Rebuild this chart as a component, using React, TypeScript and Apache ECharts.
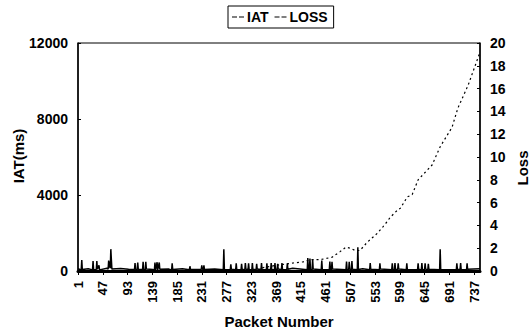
import React, { useEffect, useRef } from "react";
import * as echarts from "echarts";

const PACKET_COUNT = 748;
const packets: string[] = Array.from({ length: PACKET_COUNT }, (_, i) => String(i + 1));

// [packet number, IAT (ms)]
const iatPoints: [number, number][] = [
  [1, 120], [7, 60], [8, 580], [9, 80], [20, 120], [28, 60], [29, 530], [30, 70], [35, 80], [36, 530], [37, 90],
  [40, 300], [41, 60], [55, 150], [57, 100], [58, 550], [60, 200], [61, 150], [62, 1150], [63, 600], [64, 100],
  [80, 130], [95, 90], [106, 80], [107, 420], [108, 80], [111, 70], [112, 450], [113, 90], [121, 80], [122, 480], [123, 70],
  [126, 60], [127, 480], [128, 100], [140, 80], [143, 60], [144, 450], [145, 20], [148, 460], [149, 30], [152, 450],
  [153, 90], [170, 100], [175, 60], [176, 400], [177, 80], [195, 120], [208, 70], [209, 250], [210, 90], [230, 80], [231, 300],
  [232, 100], [234, 70], [235, 300], [236, 80], [255, 110], [271, 60], [272, 1150], [273, 80], [284, 70], [285, 350], [286, 90],
  [294, 60], [295, 400], [296, 80], [304, 70], [305, 380], [306, 90], [311, 60], [312, 420], [313, 100], [317, 70], [318, 400], [319, 80],
  [324, 60], [325, 420], [326, 90], [332, 70], [333, 380], [334, 100], [341, 60], [342, 420], [343, 80], [351, 70], [352, 400], [353, 90],
  [359, 60], [360, 420], [361, 80], [366, 70], [367, 420], [368, 90], [371, 60], [372, 380], [373, 100], [379, 70], [380, 420], [381, 80],
  [389, 60], [390, 400], [391, 90], [400, 150], [427, 70], [428, 680], [429, 90], [431, 60], [432, 650], [433, 80], [436, 70], [437, 620],
  [438, 100], [453, 60], [454, 550], [455, 80], [468, 70], [469, 500], [470, 90], [472, 60], [473, 480], [474, 100], [499, 70], [500, 500],
  [501, 80], [504, 60], [505, 480], [506, 100], [509, 70], [510, 520], [511, 90], [520, 60], [521, 1250], [522, 80], [530, 120],
  [543, 70], [544, 420], [545, 90], [561, 60], [562, 400], [563, 100], [584, 70], [585, 400], [586, 80], [589, 60], [590, 420], [591, 90],
  [595, 70], [596, 400], [597, 100], [611, 60], [612, 400], [613, 80], [632, 70], [633, 400], [634, 90], [639, 60], [640, 420], [641, 80],
  [645, 70], [646, 400], [647, 100], [651, 60], [652, 380], [653, 90], [673, 70], [674, 1150], [675, 80], [704, 60], [705, 400], [706, 90],
  [711, 70], [712, 420], [713, 80], [723, 60], [724, 400], [725, 90], [748, 120],
];

// [packet number, loss]
const lossPoints: [number, number][] = [
  [1, 0], [330, 0], [345, 0.3], [370, 0.5], [401, 0.7], [419, 0.8], [432, 1.0], [451, 1.0],
  [473, 1.2], [488, 1.7], [499, 2.1], [507, 2.0], [516, 1.8], [525, 1.8], [538, 2.5],
  [557, 3.3], [568, 3.9], [575, 4.3], [581, 4.7], [596, 5.4], [600, 5.5], [613, 6.5],
  [622, 6.7], [633, 8.0], [659, 9.3], [674, 10.9], [696, 12.6], [707, 14.3], [726, 16.3],
  [748, 19.2],
];

const FONT = "'Liberation Sans', Arial, sans-serif";

export default function App() {
  const ref = useRef<HTMLDivElement>(null);
  useEffect(() => {
    if (!ref.current) return;
    const chart = echarts.init(ref.current, undefined, { renderer: "svg" });
    const labelStyle = { color: "#000", fontFamily: FONT, fontWeight: "bold" as const, fontSize: 14 };
    chart.setOption({
      animation: false,
      backgroundColor: "#fff",
      textStyle: { fontFamily: FONT },
      legend: {
        top: 6,
        left: 228,
        data: ["IAT", "LOSS"],
        borderColor: "#000",
        borderWidth: 1,
        padding: [4, 6, 4, 4],
        itemGap: 6,
        itemWidth: 12,
        itemHeight: 2,
        icon: "path://M0,0h5v1h-5z M7,0h5v1h-5z",
        textStyle: { ...labelStyle, fontSize: 14, padding: [0, 0, 0, -2] },
      },
      grid: {
        left: 78,
        right: 51,
        top: 43,
        bottom: 59,
        show: true,
        borderColor: "#000",
        borderWidth: 1,
        backgroundColor: "transparent",
      },
      xAxis: {
        type: "category",
        data: packets,
        boundaryGap: false,
        axisLine: { lineStyle: { color: "#000", width: 3 } },
        axisTick: { interval: 45, length: 4, lineStyle: { color: "#000" } },
        axisLabel: { ...labelStyle, fontSize: 13, interval: 45, rotate: 90, margin: 10 },
        splitLine: { show: false },
      },
      yAxis: [
        {
          type: "value",
          min: 0,
          max: 12000,
          interval: 4000,
          axisLine: { show: true, lineStyle: { color: "#000", width: 1.5 } },
          axisTick: { show: true, inside: true, length: 3, lineStyle: { color: "#000" } },
          axisLabel: { ...labelStyle, margin: 10, formatter: (v: number) => String(v) },
          splitLine: { show: false },
        },
        {
          type: "value",
          min: 0,
          max: 20,
          interval: 2,
          axisLine: { show: true, lineStyle: { color: "#000", width: 1.5 } },
          axisTick: { show: true, inside: true, length: 3, lineStyle: { color: "#000" } },
          axisLabel: { ...labelStyle, margin: 10, formatter: (v: number) => String(v) },
          splitLine: { show: false },
        },
      ],
      graphic: [
        {
          type: "text",
          x: 18,
          y: 156,
          rotation: Math.PI / 2,
          style: { text: "IAT(ms)", fill: "#000", font: `bold 15px ${FONT}`, align: "center", verticalAlign: "middle" },
        },
        {
          type: "text",
          x: 522,
          y: 168,
          rotation: Math.PI / 2,
          style: { text: "Loss", fill: "#000", font: `bold 15px ${FONT}`, align: "center", verticalAlign: "middle" },
        },
        {
          type: "text",
          x: 279,
          y: 321,
          style: { text: "Packet Number", fill: "#000", font: `bold 15px ${FONT}`, align: "center", verticalAlign: "middle" },
        },
      ],
      series: [
        {
          name: "IAT",
          type: "line",
          yAxisIndex: 0,
          showSymbol: false,
          symbol: "none",
          data: iatPoints.map(([p, v]) => [p - 1, v]),
          lineStyle: { color: "#000", width: 1.5 },
          itemStyle: { color: "#000" },
          z: 3,
        },
        {
          name: "LOSS",
          type: "line",
          yAxisIndex: 1,
          showSymbol: false,
          symbol: "none",
          data: lossPoints.map(([p, v]) => [p - 1, v]),
          lineStyle: { color: "#000", width: 1.2, type: [2, 3] },
          itemStyle: { color: "#000" },
          z: 2,
        },
      ],
    });
    return () => chart.dispose();
  }, []);
  return <div ref={ref} style={{ position: "fixed", left: 0, top: 0, width: 531, height: 330 }} />;
}
